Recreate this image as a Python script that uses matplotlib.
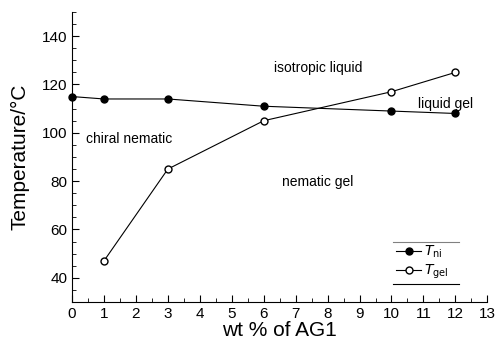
import matplotlib
matplotlib.use("Agg")
import matplotlib.pyplot as plt
from matplotlib.ticker import MultipleLocator

x_ni = [0, 1, 3, 6, 10, 12]
t_ni = [115, 114, 114, 111, 109, 108]
x_gel = [1, 3, 6, 10, 12]
t_gel = [47, 85, 105, 117, 125]

plt.rcParams['font.family'] = ['Liberation Sans', 'DejaVu Sans']

fig = plt.figure(figsize=(4.95, 3.42), dpi=100)
ax = fig.add_axes([0.1455, 0.117, 0.839, 0.848])

ax.plot(x_ni, t_ni, '-o', color='black', lw=0.8, ms=5, mfc='black', mec='black',
        label=r'$T_{\rm ni}$', clip_on=False, zorder=3)
ax.plot(x_gel, t_gel, '-o', color='black', lw=0.8, ms=5, mfc='white', mec='black',
        label=r'$T_{\rm gel}$', clip_on=False, zorder=3)

ax.set_xlim(0, 13)
ax.set_ylim(30, 150)
ax.xaxis.set_major_locator(MultipleLocator(1))
ax.xaxis.set_minor_locator(MultipleLocator(0.5))
ax.yaxis.set_minor_locator(MultipleLocator(5))
ax.set_yticks([40, 60, 80, 100, 120, 140])
ax.tick_params(which='both', direction='in', top=False, right=False, labelsize=11)
ax.tick_params(which='major', length=5, width=0.8)
ax.tick_params(which='minor', length=3, width=0.6)
ax.spines['top'].set_visible(False)
ax.spines['right'].set_visible(False)
ax.spines['left'].set_linewidth(0.8)
ax.spines['bottom'].set_linewidth(0.8)

ax.set_xlabel('wt % of AG1', fontsize=15, labelpad=0)
ax.set_ylabel('Temperature/°C', fontsize=15, labelpad=9)

ax.text(7.7, 127, 'isotropic liquid', fontsize=10, ha='center', va='center')
ax.text(11.7, 112, 'liquid gel', fontsize=10, ha='center', va='center')
ax.text(1.8, 97.5, 'chiral nematic', fontsize=10, ha='center', va='center')
ax.text(7.7, 79.5, 'nematic gel', fontsize=10, ha='center', va='center')

leg = ax.legend(loc='upper left', bbox_to_anchor=(10.15, 54), bbox_transform=ax.transData,
                frameon=False, fontsize=10, handlelength=1.8, borderpad=0, borderaxespad=0,
                labelspacing=0.15, handletextpad=0.2)
# lines above and below legend
ax.plot([10.05, 12.1], [55, 55], color='gray', lw=0.8, clip_on=False)
ax.plot([10.05, 12.1], [37.3, 37.3], color='black', lw=0.8, clip_on=False)

fig.savefig('out.png', dpi=100)
